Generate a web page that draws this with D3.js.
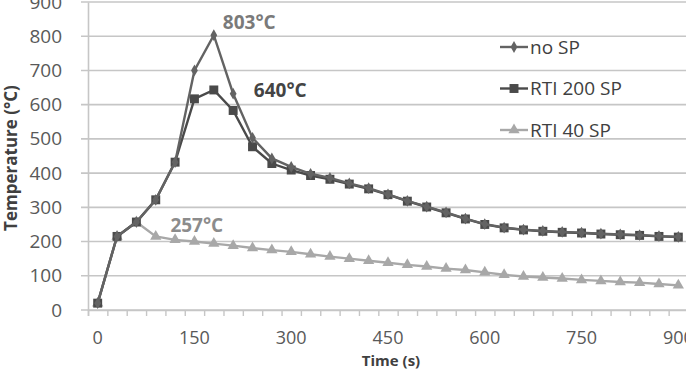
<!DOCTYPE html>
<html>
<head>
<meta charset="utf-8">
<script src="https://cdn.jsdelivr.net/npm/d3@7"></script>
<style>
  body { margin: 0; background: #fff; }
  svg { display: block; font-family: "Open Sans", sans-serif; }
</style>
</head>
<body>
<div id="chart"></div>
<script>
// time in seconds, one reading every 30 s
const times = d3.range(0, 901, 30);
const noSP = [20, 215, 257, 322, 432, 700, 803, 632, 503, 443, 418, 398, 386, 370, 356, 338,
    319, 302, 285, 267, 251, 241, 235, 231, 228, 226, 223, 221, 219, 216, 214];
const rti200 = [20, 215, 257, 322, 432, 617, 643, 583, 477, 428, 409, 393, 382, 368, 354, 337,
    318, 301, 284, 266, 250, 240, 234, 230, 227, 225, 222, 220, 218, 215, 213];
const rti40 = [20, 215, 257, 215, 205, 200, 194, 188, 181, 175, 170, 163, 156, 150, 144, 138,
    132, 127, 121, 117, 110, 103, 98, 95, 92, 88, 85, 82, 80, 76, 72];
const seriesNames = ['no SP', 'RTI 200 SP', 'RTI 40 SP'];
const xTicks = [0, 150, 300, 450, 600, 750, 900];
const yTicks = [0, 100, 200, 300, 400, 500, 600, 700, 800, 900];
const notes = [
    { t: 180, v: 803, text: '803°C' },
    { t: 180, v: 643, text: '640°C' },
    { t: 60, v: 257, text: '257°C' }
];

const size = { width: 686, height: 370 };
const plot = { left: 88, right: 688, top: 2, bottom: 310 };

const series = [
    { name: seriesNames[0], values: noSP, color: '#636363', shape: d3.symbolDiamond, area: 40 },
    { name: seriesNames[1], values: rti200, color: '#4a4a4a', shape: d3.symbolSquare, area: 80 },
    { name: seriesNames[2], values: rti40, color: '#a8a8a8', shape: d3.symbolTriangle, area: 55 }
];

const svg = d3.select('#chart').append('svg')
    .attr('width', size.width)
    .attr('height', size.height)
    .attr('viewBox', [0, 0, size.width, size.height]);

const xScale = d3.scaleLinear()
    .domain([-15, 915])
    .range([plot.left, plot.right]);

const yScale = d3.scaleLinear()
    .domain([0, 900])
    .range([plot.bottom, plot.top]);

// gridlines
svg.append('g')
    .selectAll('line')
    .data(yTicks)
    .join('line')
    .attr('x1', plot.left - 7)
    .attr('x2', size.width)
    .attr('y1', d => yScale(d))
    .attr('y2', d => yScale(d))
    .attr('stroke', '#c6c6c6')
    .attr('stroke-width', 1.6);

// y axis
const yAxis = svg.append('g')
    .attr('transform', `translate(${plot.left},0)`)
    .call(d3.axisLeft(yScale).tickValues(yTicks).tickSize(0).tickPadding(26));
yAxis.select('.domain').attr('stroke', '#c6c6c6').attr('stroke-width', 1.6);
yAxis.selectAll('text')
    .attr('font-size', 19)
    .attr('font-family', '"Open Sans", sans-serif')
    .attr('fill', '#595959');

// x axis: tick marks between categories, labels every 150 s
const xAxis = svg.append('g')
    .attr('transform', `translate(0,${plot.bottom})`)
    .call(d3.axisBottom(xScale).tickValues(times.map(t => t - 15).concat([915])).tickSize(6).tickFormat(''));
xAxis.select('.domain').attr('stroke', '#c6c6c6').attr('stroke-width', 1.6);
xAxis.selectAll('.tick line').attr('stroke', '#c6c6c6').attr('stroke-width', 1.4);

svg.append('g')
    .selectAll('text')
    .data(xTicks)
    .join('text')
    .attr('x', d => xScale(d))
    .attr('y', plot.bottom + 34)
    .attr('text-anchor', 'middle')
    .attr('font-size', 18)
    .attr('fill', '#595959')
    .text(d => d);

// axis titles
svg.append('text')
    .attr('x', 391)
    .attr('y', 366)
    .attr('text-anchor', 'middle')
    .attr('font-size', 15)
    .attr('font-weight', 'bold')
    .attr('fill', '#404040')
    .text('Time (s)');

svg.append('text')
    .attr('transform', 'translate(17,158) rotate(-90)')
    .attr('text-anchor', 'middle')
    .attr('font-size', 17)
    .attr('font-weight', 'bold')
    .attr('fill', '#404040')
    .text('Temperature (°C)');

const line = d3.line()
    .x((d, i) => xScale(times[i]))
    .y(d => yScale(d));

// draw light series first so the dark ones sit on top
[2, 1, 0].forEach(k => {
    const s = series[k];
    const g = svg.append('g');
    g.append('path')
        .attr('d', line(s.values))
        .attr('fill', 'none')
        .attr('stroke', s.color)
        .attr('stroke-width', 2.4);
    g.selectAll('path.mark')
        .data(s.values)
        .join('path')
        .attr('class', 'mark')
        .attr('transform', (d, i) => `translate(${xScale(times[i])},${yScale(d)})`)
        .attr('d', d3.symbol().type(s.shape).size(s.area))
        .attr('fill', s.color);
});

// peak labels
const noteStyle = [
    { dx: 9, dy: -6, color: '#7a7a7a' },
    { dx: 40, dy: 7, color: '#444444' },
    { dx: 34, dy: 10, color: '#8c8c8c' }
];
svg.append('g')
    .selectAll('text')
    .data(notes)
    .join('text')
    .attr('x', (d, i) => xScale(d.t) + noteStyle[i].dx)
    .attr('y', (d, i) => yScale(d.v) + noteStyle[i].dy)
    .attr('font-size', 19)
    .attr('font-weight', 'bold')
    .attr('fill', (d, i) => noteStyle[i].color)
    .text(d => d.text);

// legend
const legend = svg.append('g')
    .selectAll('g')
    .data(series)
    .join('g')
    .attr('transform', (d, i) => `translate(500,${47 + i * 41.5})`);
legend.append('line')
    .attr('x1', 0).attr('x2', 28)
    .attr('stroke', d => d.color)
    .attr('stroke-width', 2.4);
legend.append('path')
    .attr('transform', 'translate(14,0)')
    .attr('d', d => d3.symbol().type(d.shape).size(d.area)())
    .attr('fill', d => d.color);
legend.append('text')
    .attr('x', 30)
    .attr('dy', '0.35em')
    .attr('font-size', 19)
    .attr('fill', '#404040')
    .text(d => d.name);
</script>
</body>
</html>
